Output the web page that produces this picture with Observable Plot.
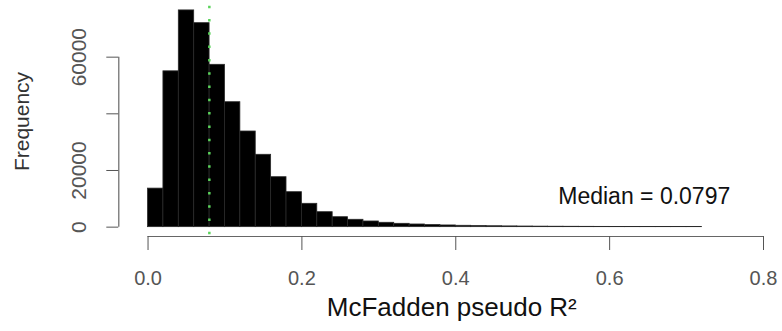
<!DOCTYPE html>
<html>
<head>
<meta charset="utf-8">
<script src="https://cdn.jsdelivr.net/npm/d3@7"></script>
<script src="https://cdn.jsdelivr.net/npm/@observablehq/plot@0.6"></script>
<style>
  html, body { margin: 0; padding: 0; background: #fff; }
  #chart { width: 782px; height: 331px; }
</style>
</head>
<body>
<div id="chart"></div>
<script>
// Histogram bins (McFadden pseudo R², width 0.02) and counts
const binStarts = [0.00,0.02,0.04,0.06,0.08,0.10,0.12,0.14,0.16,0.18,0.20,0.22,0.24,0.26,0.28,0.30,0.32,0.34,
                   0.36,0.38,0.40,0.42,0.44,0.46,0.48,0.50,0.52,0.54,0.56,0.58,0.60,0.62,0.64,0.66,0.68,0.70];
const binWidth = 0.02;
const counts = [13600,55000,76500,72000,57300,44100,33760,25540,17630,12340,8240,5280,3510,2600,2000,1540,1180,940,
                750,600,480,390,320,260,220,180,150,130,110,95,80,70,60,50,45,40];
const xTicks = [0.0, 0.2, 0.4, 0.6, 0.8];
const yTicks = [0, 20000, 40000, 60000];
const yTickLabels = ["0", "20000", "", "60000"];
const median = 0.0797;
const medianLabel = [{x: 0.645, y: 10800, text: "Median = 0.0797"}];
const xTitle = "McFadden pseudo R²";
const yTitle = "Frequency";
// plot region (R usr limits)
const xDomain = [-0.038, 0.8];
const yDomain = [-3300, 80000];
const regionY = [-2700, 79500];

const bins = binStarts.map((s, i) => ({x1: s, x2: s + binWidth, count: counts[i]}));
const font = "'Liberation Sans', Arial, Helvetica, sans-serif";

const chart = Plot.plot({
  width: 782,
  height: 331,
  marginLeft: 118.3,
  marginRight: 19,
  marginTop: 0,
  marginBottom: 95,
  x: {domain: xDomain},
  y: {domain: yDomain},
  style: {fontFamily: font, background: "#fff"},
  marks: [
    Plot.rectY(bins, {x1: "x1", x2: "x2", y: "count", fill: "#000", stroke: "#2a2a2a", strokeWidth: 0.8}),
    Plot.ruleX([median], {y1: regionY[0], y2: regionY[1], stroke: "#5bd35b", strokeWidth: 2.5, strokeDasharray: "2.5,10.8"}),
    // axis lines (R style: from first to last tick)
    Plot.ruleY([yDomain[0]], {x1: xTicks[0], x2: xTicks[xTicks.length - 1], stroke: "#666", strokeWidth: 1.2}),
    Plot.ruleX([xDomain[0]], {y1: yTicks[0], y2: yTicks[yTicks.length - 1], stroke: "#666", strokeWidth: 1.2}),
    Plot.axisX({ticks: xTicks, tickFormat: d3.format(".1f"), tickSize: 14, tickPadding: 20,
                fontSize: 20, color: "#555", label: null}),
    Plot.axisY({ticks: yTicks, tickFormat: (d) => yTickLabels[yTicks.indexOf(d)], tickSize: 12,
                tickPadding: 21, tickRotate: -90, fontSize: 21, color: "#555", label: null}),
    Plot.text([yTitle], {frameAnchor: "left", text: d => d, rotate: -90, lineAnchor: "top",
                dx: -105, dy: 3, fontSize: 21, fill: "#333", textAnchor: "middle"}),
    Plot.text([xTitle], {x: d3.mean([xTicks[0], xTicks[xTicks.length - 1]]), y: yDomain[0], text: d => d,
                dx: -4, dy: 71, fontSize: 26, fill: "#111", textAnchor: "middle"}),
    Plot.text(medianLabel, {x: "x", y: "y", text: "text", fontSize: 23, fill: "#111", textAnchor: "middle"})
  ]
});
document.getElementById("chart").appendChild(chart);
</script>
</body>
</html>
